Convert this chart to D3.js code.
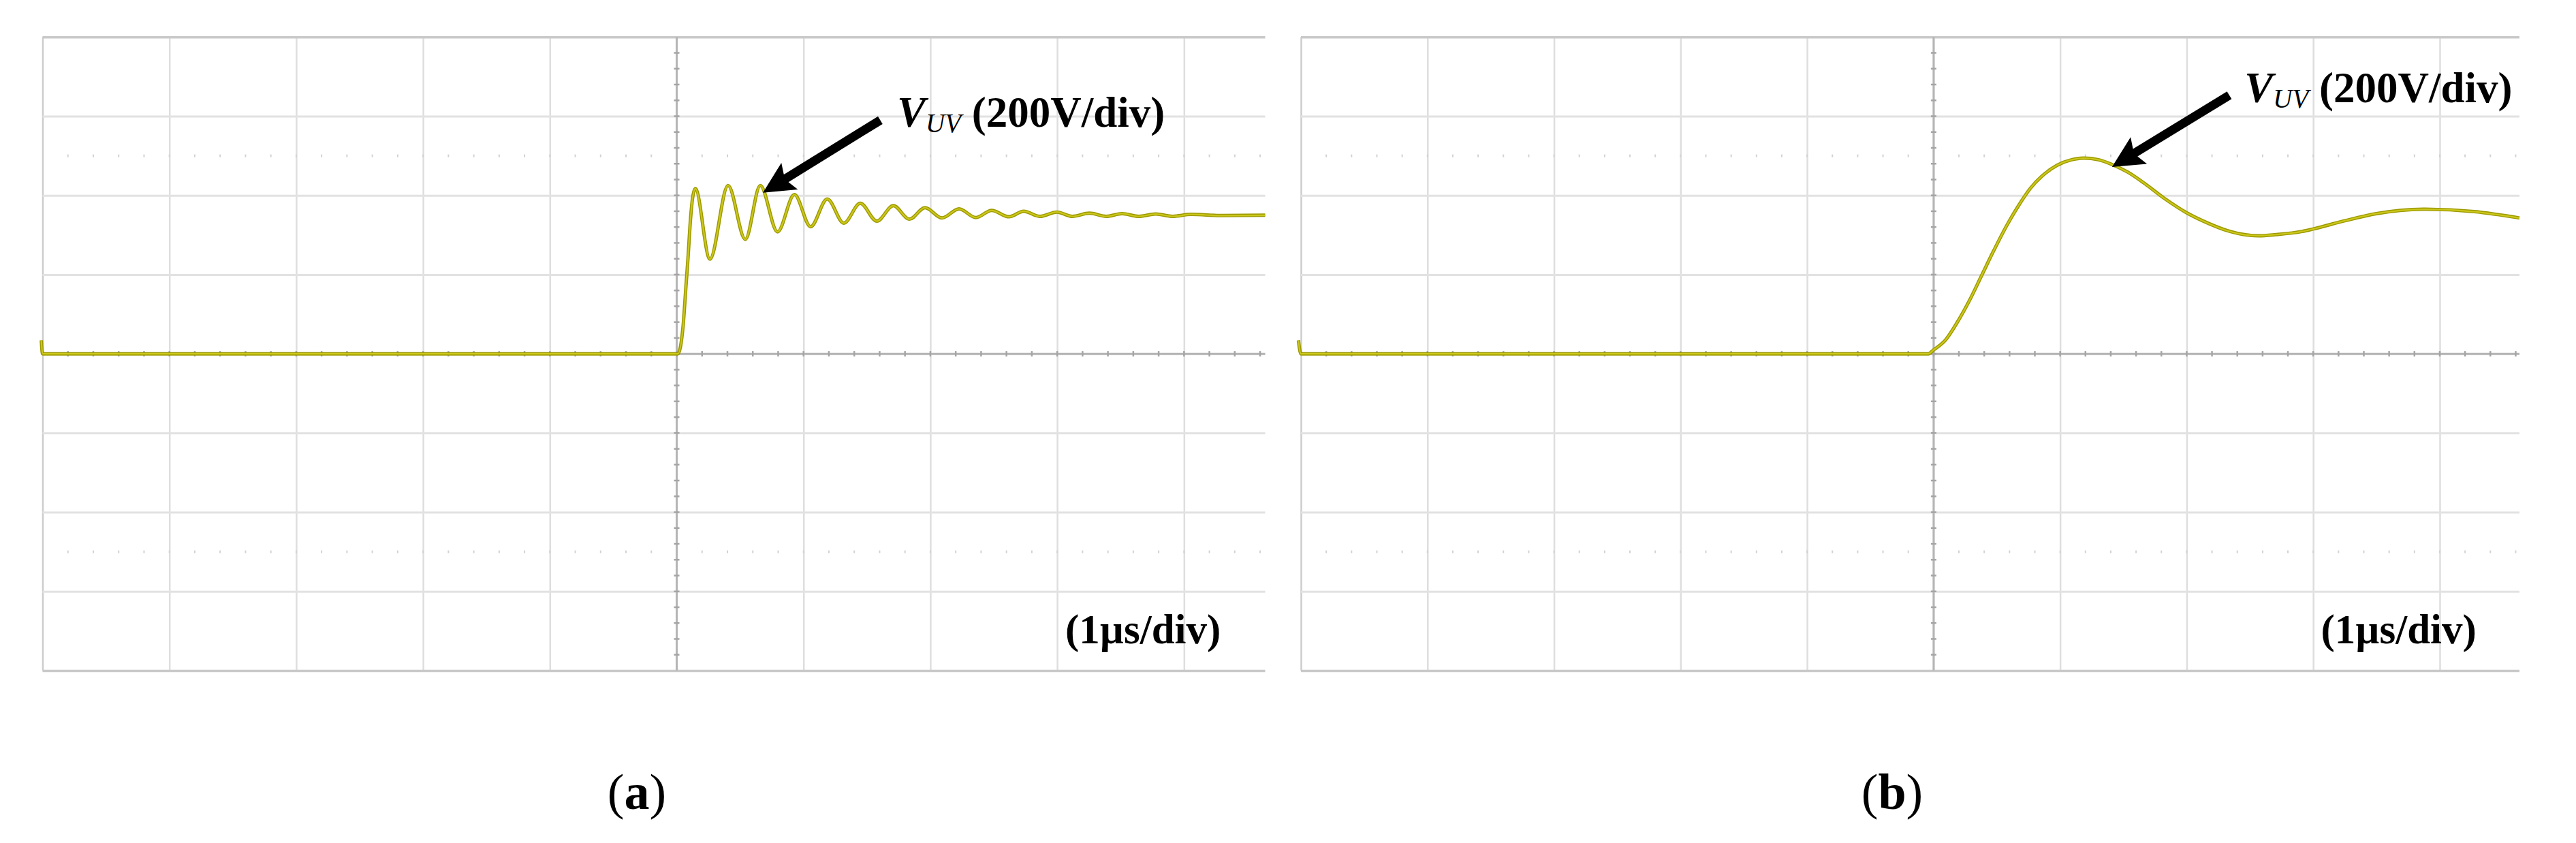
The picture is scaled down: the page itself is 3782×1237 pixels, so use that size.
<!DOCTYPE html>
<html>
<head>
<meta charset="utf-8">
<script src="https://cdn.jsdelivr.net/npm/d3@7"></script>
<style>
  body { margin: 0; background: #fff; }
  svg { display: block; }
  text { font-family: "Liberation Serif", "Times New Roman", serif; fill: #000; }
</style>
</head>
<body>
<svg id="chart"></svg>
<script>
const W = 3782, H = 1237;

// time in µs (1 µs/div), voltage in V (200 V/div)
const timeA = [-5.01, -5.0, 0.009, 0.05, 0.072, 0.09, 0.107, 0.126, 0.147, 0.262, 0.405, 0.541, 0.659, 0.795,
  0.928, 1.056, 1.187, 1.318, 1.447, 1.578, 1.708, 1.835, 1.958, 2.092, 2.226, 2.359, 2.483, 2.62, 2.736,
  2.864, 2.997, 3.12, 3.254, 3.387, 3.511, 3.644, 3.777, 3.911, 4.055, 4.3, 4.64];
const voltA = [34, 0, 0, 69, 166, 246, 332, 395, 417, 239, 425, 289, 425, 308,
  402, 321, 391, 330, 380, 335, 374, 340, 369, 343, 366, 344, 362, 346, 360,
  347, 358, 347, 355, 347, 354, 347, 353, 347, 352, 349, 350];

const timeB = [-5.02, -5.0, -0.042, -0.004, 0.092, 0.188, 0.284, 0.38, 0.476, 0.573, 0.669, 0.765, 0.861,
  0.976, 1.091, 1.187, 1.302, 1.417, 1.533, 1.668, 1.821, 2.0, 2.167, 2.321, 2.475, 2.57, 2.705, 2.912,
  2.997, 3.25, 3.499, 3.887, 4.274, 4.63];
const voltB = [34, 0, 0, 9, 34, 80, 135, 198, 261, 321, 373, 418, 450,
  476, 490, 494, 490, 477, 459, 430, 393, 356, 330, 311, 300, 298, 301, 309,
  315, 336, 354, 365, 359, 343];

// graticule: major divisions and the dotted reference rows
const xDivs = [-5, -4, -3, -2, -1, 0, 1, 2, 3, 4];
const yDivs = [-800, -600, -400, -200, 0, 200, 400, 600, 800];
const dottedRows = [-500, 500];

const panels = [
  { name: "a", time: timeA, volt: voltA, left: 62.5, right: 1857.5, tMax: 4.64,
    tip: [0.68, 407], tail: [1.605, 590], label: [1.737, 573], caption: 935 },
  { name: "b", time: timeB, volt: voltB, left: 1910, right: 3699, tMax: 4.63,
    tip: [1.41, 472], tail: [2.337, 653], label: [2.457, 635], caption: 2778 }
];
const plotTop = 54.3, plotBottom = 984;

const svg = d3.select("#chart").attr("width", W).attr("height", H)
  .style("background", "#fff");

function arrowPath(x1, y1, x2, y2, sw, hl, hw) {
  const L = Math.hypot(x2 - x1, y2 - y1);
  const ux = (x2 - x1) / L, uy = (y2 - y1) / L, nx = -uy, ny = ux;
  const bx = x2 - ux * hl, by = y2 - uy * hl;     // neck
  const wx = x2 - ux * (hl + 6), wy = y2 - uy * (hl + 6); // wings slightly swept back
  const pts = [
    [x1 + nx * sw / 2, y1 + ny * sw / 2],
    [bx + nx * sw / 2, by + ny * sw / 2],
    [wx + nx * hw / 2, wy + ny * hw / 2],
    [x2, y2],
    [wx - nx * hw / 2, wy - ny * hw / 2],
    [bx - nx * sw / 2, by - ny * sw / 2],
    [x1 - nx * sw / 2, y1 - ny * sw / 2]
  ];
  return "M" + pts.map(p => p[0].toFixed(1) + "," + p[1].toFixed(1)).join("L") + "Z";
}

panels.forEach(p => {
  const x = d3.scaleLinear().domain([-5, p.tMax]).range([p.left, p.right]);
  const y = d3.scaleLinear().domain([-800, 800]).range([plotBottom, plotTop]);
  const g = svg.append("g").attr("class", "panel-" + p.name);

  // vertical division lines (via axis)
  g.append("g")
    .attr("transform", `translate(0,${plotBottom})`)
    .call(d3.axisBottom(x).tickValues(xDivs).tickSize(-(plotBottom - plotTop)).tickFormat(""))
    .call(a => a.select(".domain").remove())
    .call(a => a.selectAll(".tick line").attr("stroke", d => d === -5 ? "#cdcdcd" : "#dedede")
      .attr("stroke-width", 2.5));

  // horizontal division lines
  g.append("g")
    .attr("transform", `translate(${p.left},0)`)
    .call(d3.axisLeft(y).tickValues(yDivs).tickSize(-(p.right - p.left)).tickFormat(""))
    .call(a => a.select(".domain").remove())
    .call(a => a.selectAll(".tick line")
      .attr("stroke", d => Math.abs(d) === 800 ? "#c9c9c9" : "#e2e2e2")
      .attr("stroke-width", d => Math.abs(d) === 800 ? 3.5 : 3));

  // dotted reference rows
  const minorT = d3.range(-4.8, p.tMax, 0.2);
  dottedRows.forEach(v => {
    g.append("g").selectAll("line").data(minorT).join("line")
      .attr("x1", d => x(d)).attr("x2", d => x(d))
      .attr("y1", y(v) - 2).attr("y2", y(v) + 2)
      .attr("stroke", "#d2d2d2").attr("stroke-width", 2);
  });

  // centre axes with minor ticks
  g.append("line").attr("x1", p.left).attr("x2", p.right).attr("y1", y(0)).attr("y2", y(0))
    .attr("stroke", "#b5b5b5").attr("stroke-width", 3);
  g.append("line").attr("x1", x(0)).attr("x2", x(0)).attr("y1", plotTop).attr("y2", plotBottom)
    .attr("stroke", "#b5b5b5").attr("stroke-width", 3);
  g.append("g").selectAll("line").data(minorT).join("line")
    .attr("x1", d => x(d)).attr("x2", d => x(d))
    .attr("y1", y(0) - 4).attr("y2", y(0) + 4)
    .attr("stroke", "#a5a5a5").attr("stroke-width", 2.5);
  g.append("g").selectAll("line").data(d3.range(-760, 800, 40)).join("line")
    .attr("x1", x(0) - 4).attr("x2", x(0) + 4)
    .attr("y1", d => y(d)).attr("y2", d => y(d))
    .attr("stroke", "#a5a5a5").attr("stroke-width", 2.5);

  // trace
  const pts = p.time.map((t, i) => [t, p.volt[i]]);
  const line = d3.line().x(d => x(d[0])).y(d => y(d[1])).curve(d3.curveMonotoneX);
  g.append("path").attr("d", line(pts)).attr("fill", "none")
    .attr("stroke", "#9c9800").attr("stroke-width", 5).attr("stroke-linejoin", "round");
  g.append("path").attr("d", line(pts)).attr("fill", "none")
    .attr("stroke", "#cbc71a").attr("stroke-width", 2.2).attr("stroke-linejoin", "round");

  // annotation arrow
  g.append("path")
    .attr("d", arrowPath(x(p.tail[0]), y(p.tail[1]), x(p.tip[0]), y(p.tip[1]), 13, 40, 46))
    .attr("fill", "#000");

  // annotation text
  const t = g.append("text").attr("x", x(p.label[0])).attr("y", y(p.label[1]))
    .style("font-size", "63px");
  t.append("tspan").style("font-style", "italic").style("font-weight", "bold").text("V");
  t.append("tspan").style("font-style", "italic").style("font-size", "39px")
    .attr("dy", 8).text("UV");
  t.append("tspan").style("font-weight", "bold").attr("dy", -8).text(" (200V/div)");

  g.append("text").attr("x", x(4.29)).attr("y", y(-732))
    .attr("text-anchor", "end").style("font-size", "61px").style("font-weight", "bold")
    .text("(1µs/div)");

  // sub-figure caption
  const c = svg.append("text").attr("x", p.caption).attr("y", 1187)
    .attr("text-anchor", "middle").style("font-size", "74px");
  c.append("tspan").text("(");
  c.append("tspan").style("font-weight", "bold").text(p.name);
  c.append("tspan").text(")");
});
</script>
</body>
</html>
